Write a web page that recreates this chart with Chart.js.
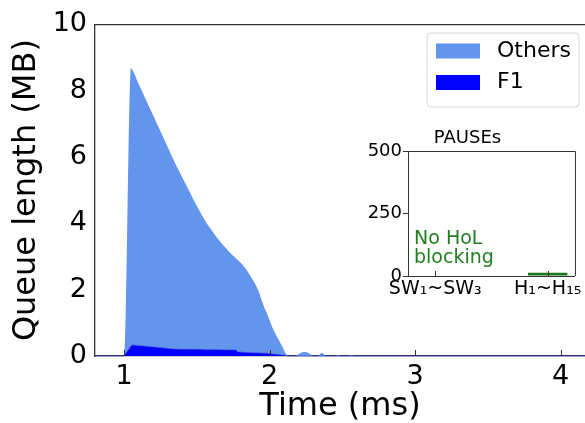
<!DOCTYPE html>
<html lang="en">
<head>
    <meta charset="UTF-8">
    <title>Queue length - F1 vs Others</title>
    <script src="https://cdn.jsdelivr.net/npm/chart.js"></script>
    <style>
        html, body { margin: 0; padding: 0; background: #fff; overflow: hidden; }
        .wrap { position: relative; width: 585px; height: 423px; }
        #mainChart { position: absolute; left: 0; top: 0; }
        #insetChart { position: absolute; left: 360px; top: 120px; }
    </style>
</head>
<body>
    <div class="wrap">
        <canvas id="mainChart" width="585" height="423"></canvas>
        <canvas id="insetChart" width="225" height="185"></canvas>
    </div>

    <script>
        // Main chart data (time in ms, queue in MB)
        const times = [0.8, 1.0, 1.047, 1.06, 1.1, 1.132, 1.2, 1.25, 1.338, 1.38, 1.45, 1.5, 1.568, 1.62, 1.66, 1.7,
            1.75, 1.77, 1.78, 1.82, 1.86, 1.92, 1.96, 1.98, 2.02, 2.08, 2.13, 2.18, 2.21, 2.24, 2.27, 2.30, 2.33,
            2.36, 2.39, 2.45, 2.47, 2.49, 2.54, 2.56, 2.58, 4.2];
        const f1Queue = [0, 0, 0.3, 0.33, 0.31, 0.3, 0.27, 0.25, 0.21, 0.2, 0.2, 0.2, 0.19, 0.19, 0.19, 0.18,
            0.18, 0.18, 0.12, 0.11, 0.1, 0.09, 0.08, 0.08, 0.06, 0.03, 0, 0, 0, 0, 0, 0, 0,
            0, 0, 0, 0, 0, 0, 0, 0, 0];
        const othersQueue = [0, 0, 8.38, 8.27, 7.89, 7.6, 6.98, 6.52, 5.72, 5.35, 4.75, 4.32, 3.81, 3.49, 3.26, 3.07,
            2.84, 2.76, 2.78, 2.61, 2.37, 1.91, 1.42, 1.22, 0.79, 0.32, 0, 0, 0.08, 0.13, 0.08, 0, 0,
            0.1, 0, 0, 0.03, 0, 0, 0.03, 0, 0];
        const xTicks = [1, 2, 3, 4];
        const yTicks = [0, 2, 4, 6, 8, 10];

        // Inset data
        const pauseGroups = ['SW\u2081~SW\u2083', 'H\u2081~H\u2081\u2085'];
        const pauseCounts = [0, 13];
        const pauseTicks = [0, 250, 500];
        const insetNote = ['No HoL', 'blocking'];

        const FONT = 'DejaVu Sans';
        const SPINE = '#333';

        // top spine, inward x ticks and legend for the main chart
        const mainFrame = {
            id: 'mainFrame',
            afterDraw(chart) {
                const { ctx, chartArea, scales } = chart;
                ctx.save();
                ctx.strokeStyle = SPINE;
                ctx.lineWidth = 1.3;
                ctx.beginPath();
                ctx.moveTo(chartArea.left, chartArea.top + 0.5);
                ctx.lineTo(chartArea.right, chartArea.top + 0.5);
                ctx.stroke();

                ctx.lineWidth = 1;
                xTicks.forEach(v => {
                    const px = Math.round(scales.x.getPixelForValue(v)) + 0.5;
                    ctx.beginPath();
                    ctx.moveTo(px, chartArea.bottom);
                    ctx.lineTo(px, chartArea.bottom - 6);
                    ctx.stroke();
                });

                // legend (Others on top, like the reference)
                ctx.beginPath();
                ctx.roundRect(427, 33, 152, 74, 4);
                ctx.fillStyle = 'rgba(255,255,255,0.85)';
                ctx.fill();
                ctx.strokeStyle = '#d6d6d6';
                ctx.stroke();
                const items = chart.data.datasets.slice().reverse();
                ctx.font = '22px "' + FONT + '"';
                ctx.textBaseline = 'middle';
                items.forEach((ds, i) => {
                    const cy = 51 + i * 31.5;
                    ctx.fillStyle = ds.backgroundColor;
                    ctx.fillRect(436, cy - 7.5, 44, 15);
                    ctx.fillStyle = '#000';
                    ctx.fillText(ds.label, 497, cy);
                });
                ctx.restore();
            }
        };

        new Chart(document.getElementById('mainChart'), {
            type: 'line',
            data: {
                datasets: [
                    {
                        label: 'F1',
                        data: times.map((t, i) => ({ x: t, y: f1Queue[i] })),
                        backgroundColor: '#0000ff',
                        borderColor: 'rgba(40,40,220,0.55)',
                        borderWidth: 1,
                        fill: 'origin',
                        pointRadius: 0,
                        tension: 0,
                        clip: { left: 0, top: 0, right: 0, bottom: 2 }
                    },
                    {
                        label: 'Others',
                        data: times.map((t, i) => ({ x: t, y: othersQueue[i] })),
                        backgroundColor: '#6495ed',
                        borderColor: '#6495ed',
                        borderWidth: 0,
                        fill: '-1',
                        pointRadius: 0,
                        cubicInterpolationMode: 'monotone'
                    }
                ]
            },
            options: {
                responsive: false,
                animation: false,
                layout: { padding: { top: 22, right: 0, bottom: 0, left: 0 } },
                plugins: { legend: { display: false }, tooltip: { enabled: false } },
                scales: {
                    x: {
                        type: 'linear',
                        min: 0.8,
                        max: 4.168,
                        afterBuildTicks: s => { s.ticks = xTicks.map(v => ({ value: v })); },
                        afterFit: s => { s.height = 67; },
                        grid: { display: false, drawTicks: false },
                        border: { color: SPINE, width: 1.3 },
                        ticks: { font: { family: FONT, size: 27 }, color: '#000', padding: 5, maxRotation: 0 },
                        title: {
                            display: true, text: 'Time (ms)', color: '#000',
                            font: { family: FONT, size: 32, lineHeight: 1 },
                            padding: { top: 0, bottom: 0 }
                        }
                    },
                    y: {
                        stacked: true,
                        min: 0,
                        max: 10,
                        afterBuildTicks: s => { s.ticks = yTicks.map(v => ({ value: v })); },
                        afterFit: s => { s.width = 95; },
                        grid: { display: false, drawTicks: false },
                        border: { color: SPINE, width: 1.3 },
                        ticks: { font: { family: FONT, size: 27 }, color: '#000', padding: 8 },
                        title: {
                            display: true, text: 'Queue length (MB)', color: '#000',
                            font: { family: FONT, size: 32, lineHeight: 1 },
                            padding: { top: 11, bottom: 0 }
                        }
                    }
                }
            },
            plugins: [mainFrame]
        });

        // inset: box, inward x ticks and the note
        const insetFrame = {
            id: 'insetFrame',
            afterDraw(chart) {
                const { ctx, chartArea, scales } = chart;
                ctx.save();
                ctx.strokeStyle = SPINE;
                ctx.lineWidth = 1;
                ctx.beginPath();
                ctx.moveTo(chartArea.left, chartArea.top + 0.5);
                ctx.lineTo(chartArea.right + 0.5, chartArea.top + 0.5);
                ctx.lineTo(chartArea.right + 0.5, chartArea.bottom);
                ctx.stroke();
                pauseGroups.forEach((g, i) => {
                    const px = Math.round(scales.x.getPixelForValue(i)) + 0.5;
                    ctx.beginPath();
                    ctx.moveTo(px, chartArea.bottom);
                    ctx.lineTo(px, chartArea.bottom - 5);
                    ctx.stroke();
                });
                ctx.fillStyle = '#1f7f1f';
                ctx.font = '19px "' + FONT + '"';
                ctx.textBaseline = 'alphabetic';
                insetNote.forEach((line, i) => {
                    ctx.fillText(line, chartArea.left + 6, 124 + i * 19.3);
                });
                ctx.restore();
            }
        };

        new Chart(document.getElementById('insetChart'), {
            type: 'bar',
            data: {
                datasets: [{
                    data: pauseGroups.map((g, i) => ({ x: i, y: pauseCounts[i] })),
                    backgroundColor: '#1a761a',
                    barPercentage: 0.35,
                    categoryPercentage: 1
                }]
            },
            options: {
                responsive: false,
                animation: false,
                layout: { padding: { top: 0, right: 10, bottom: 0, left: 0 } },
                plugins: {
                    legend: { display: false },
                    tooltip: { enabled: false },
                    title: {
                        display: true, text: 'PAUSEs', color: '#000',
                        font: { family: FONT, size: 18, weight: 'normal', lineHeight: 1 },
                        padding: { top: 9, bottom: 4 }
                    }
                },
                scales: {
                    x: {
                        type: 'linear',
                        min: -0.2425,
                        max: 1.2425,
                        offset: false,
                        afterBuildTicks: s => { s.ticks = pauseGroups.map((g, i) => ({ value: i })); },
                        afterFit: s => { s.height = 29; },
                        grid: { display: false, drawTicks: false },
                        border: { color: SPINE },
                        ticks: {
                            callback: (v, i) => pauseGroups[i],
                            font: { family: FONT, size: 19 }, color: '#000', padding: 2,
                            maxRotation: 0, autoSkip: false
                        }
                    },
                    y: {
                        min: 0,
                        max: 500,
                        afterBuildTicks: s => { s.ticks = pauseTicks.map(v => ({ value: v })); },
                        afterFit: s => { s.width = 48; },
                        grid: { display: true, drawOnChartArea: false, drawTicks: true, tickLength: 5, color: SPINE },
                        border: { color: SPINE },
                        ticks: { font: { family: FONT, size: 18 }, color: '#000', padding: 1 }
                    }
                }
            },
            plugins: [insetFrame]
        });
    </script>
</body>
</html>
